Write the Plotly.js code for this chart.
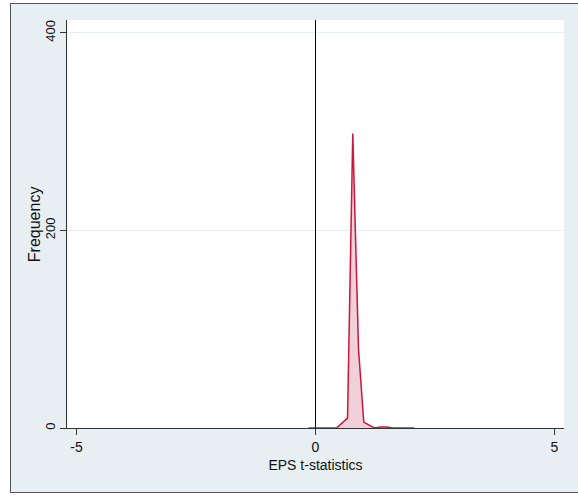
<!DOCTYPE html>
<html>
<head>
<meta charset="utf-8">
<script src="https://cdn.plot.ly/plotly-3.0.1.min.js"></script>
<style>
  html, body { margin: 0; padding: 0; background: #ffffff; width: 578px; height: 496px; overflow: hidden; }
  #frame { position: absolute; left: 10px; top: 3px; width: 580px; height: 490px; border: 1px solid #555555; box-sizing: border-box; overflow: hidden; }
  #chart { width: 580px; height: 490px; }
</style>
</head>
<body>
<div id="frame"><div id="chart"></div></div>
<script>
// Frequency polygon of EPS t-statistics
const tStat = [-0.15, 0.44, 0.67, 0.78, 0.90, 1.01, 1.23, 1.36, 1.49, 1.62, 2.07];
const frequency = [0, 0, 10, 298, 80, 6, 0, 1, 1, 0, 0];
const xTicks = [-5, 0, 5];
const yTicks = [0, 200, 400];

const trace = {
  x: tStat,
  y: frequency,
  type: 'scatter',
  mode: 'lines',
  fill: 'tozeroy',
  fillcolor: 'rgba(232,170,186,0.55)',
  line: { color: '#c8163f', width: 1.5 },
  hoverinfo: 'skip'
};

const layout = {
  width: 580,
  height: 490,
  paper_bgcolor: '#e8eff2',
  plot_bgcolor: '#ffffff',
  margin: { l: 56, r: 27, t: 16, b: 66 },
  showlegend: false,
  font: { family: 'Liberation Sans, Arial, sans-serif', size: 14, color: '#111111' },
  xaxis: {
    range: [-5.2, 5.2],
    tickvals: xTicks,
    ticktext: xTicks.map(String),
    ticks: 'outside',
    ticklen: 6,
    tickcolor: '#333333',
    showline: true,
    linecolor: '#333333',
    linewidth: 1,
    showgrid: false,
    zeroline: false,
    title: { text: 'EPS t-statistics', standoff: 6, font: { size: 14 } }
  },
  yaxis: {
    range: [0, 413],
    tickvals: yTicks,
    ticktext: yTicks.map(String),
    tickangle: -90,
    tickfont: { size: 13 },
    ticks: 'outside',
    ticklen: 6,
    tickcolor: '#333333',
    showline: true,
    linecolor: '#333333',
    linewidth: 1,
    showgrid: true,
    gridcolor: '#e6eef1',
    gridwidth: 1,
    zeroline: false
  },
  annotations: [{
    text: 'Frequency',
    xref: 'paper', yref: 'paper',
    x: -0.066, y: 0.5,
    xanchor: 'center', yanchor: 'middle',
    textangle: -90,
    showarrow: false,
    font: { size: 16, color: '#111111' }
  }],
  shapes: [{
    type: 'line', xref: 'x', yref: 'paper',
    x0: 0, x1: 0, y0: 0, y1: 1,
    line: { color: '#000000', width: 1 }
  }]
};

Plotly.newPlot('chart', [trace], layout, { displayModeBar: false, staticPlot: true });
</script>
</body>
</html>
